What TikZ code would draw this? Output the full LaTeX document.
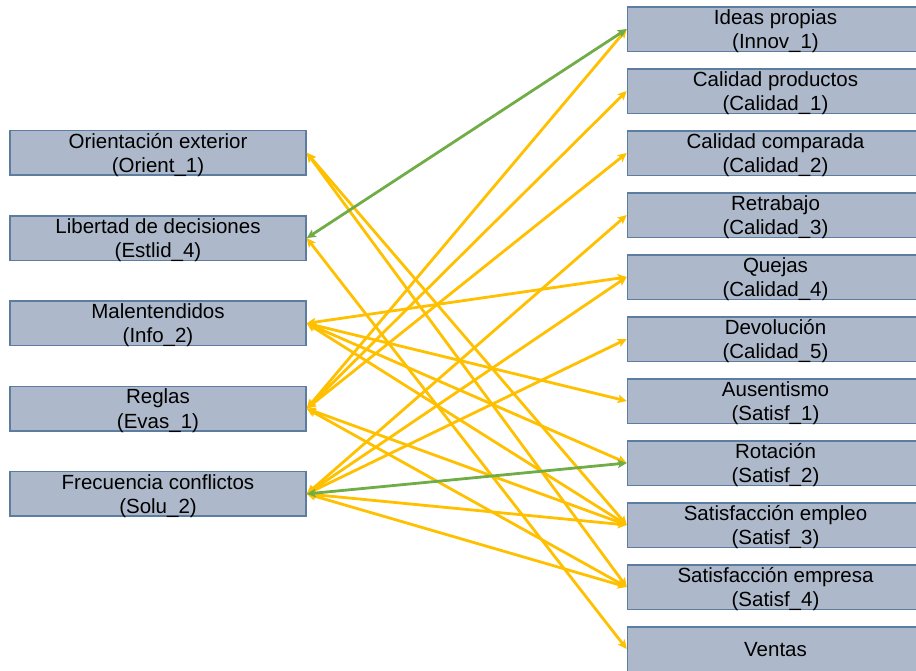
\documentclass[tikz,border=0pt]{standalone}
\usepackage{fontspec}
\setmainfont{Liberation Sans}
\usetikzlibrary{arrows.meta}
\definecolor{boxfill}{RGB}{173,185,202}
\definecolor{boxline}{RGB}{92,125,160}
\definecolor{ylw}{RGB}{255,192,0}
\definecolor{grn}{RGB}{112,173,71}
\tikzset{
  box/.style={draw=boxline, fill=boxfill, line width=1.5pt, rectangle,
    minimum width=296pt, minimum height=44.5pt, inner sep=0pt},
  lbl/.style={anchor=base, inner sep=0pt, font=\fontsize{20.5}{24}\selectfont},
  link/.style={line width=2.8pt, {Stealth[length=9pt,width=8.5pt,inset=2pt]}-{Stealth[length=9pt,width=8.5pt,inset=2pt]}},
  ylink/.style={link, draw=ylw, fill=ylw},
  glink/.style={link, draw=grn, fill=grn}
}
\begin{document}
\begin{tikzpicture}[x=1pt,y=-1pt]
\useasboundingbox (0,0) rectangle (916,670);
\clip (0,0) rectangle (916,670);
% left boxes
\foreach \n/\y/\a/\b in {
  orient/152.8/Orientación exterior/(Orient\_1),
  estlid/238.1/Libertad de decisiones/(Estlid\_4),
  info/323.3/Malentendidos/(Info\_2),
  evas/408.6/Reglas/(Evas\_1),
  solu/493.9/Frecuencia conflictos/(Solu\_2)}{
  \node[box] (\n) at (158,\y) {};
  \node[lbl] (\n-a) at ([yshift=-18.3pt]\n.north) {\a};
  \node[lbl] (\n-b) at ([yshift=-42.5pt]\n.north) {\b};
}
% right boxes
\foreach \n/\y/\a/\b in {
  innov/29/Ideas propias/(Innov\_1),
  cal1/91/Calidad productos/(Calidad\_1),
  cal2/153/Calidad comparada/(Calidad\_2),
  cal3/215/Retrabajo/(Calidad\_3),
  cal4/277/Quejas/(Calidad\_4),
  cal5/339/Devolución/(Calidad\_5),
  sat1/401/Ausentismo/(Satisf\_1),
  sat2/463/Rotación/(Satisf\_2),
  sat3/525/Satisfacción empleo/(Satisf\_3),
  sat4/587/Satisfacción empresa/(Satisf\_4)}{
  \node[box] (\n) at (775.5,\y) {};
  \node[lbl] (\n-a) at ([yshift=-18.3pt]\n.north) {\a};
  \node[lbl] (\n-b) at ([yshift=-42.5pt]\n.north) {\b};
}
\node[box] (ventas) at (775.5,649) {};
\node[lbl] (ventas-a) at ([yshift=-30pt]ventas.north) {Ventas};
% yellow links
\draw[ylink] (orient.east) -- (sat3.west);
\draw[ylink] (orient.east) -- (sat4.west);
\draw[ylink] (estlid.east) -- (ventas.west);
\draw[ylink] (info.east) -- (cal4.west);
\draw[ylink] (info.east) -- (sat1.west);
\draw[ylink] (info.east) -- (sat2.west);
\draw[ylink] (info.east) -- (sat3.west);
\draw[ylink] (evas.east) -- (innov.west);
\draw[ylink] (evas.east) -- (cal1.west);
\draw[ylink] (evas.east) -- (cal2.west);
\draw[ylink] (evas.east) -- (sat3.west);
\draw[ylink] (evas.east) -- (sat4.west);
\draw[ylink] (solu.east) -- (cal3.west);
\draw[ylink] (solu.east) -- (cal4.west);
\draw[ylink] (solu.east) -- (cal5.west);
\draw[ylink] (solu.east) -- (sat3.west);
\draw[ylink] (solu.east) -- (sat4.west);
% green links
\draw[glink] (estlid.east) -- (innov.west);
\draw[glink] (solu.east) -- (sat2.west);
\end{tikzpicture}
\end{document}
